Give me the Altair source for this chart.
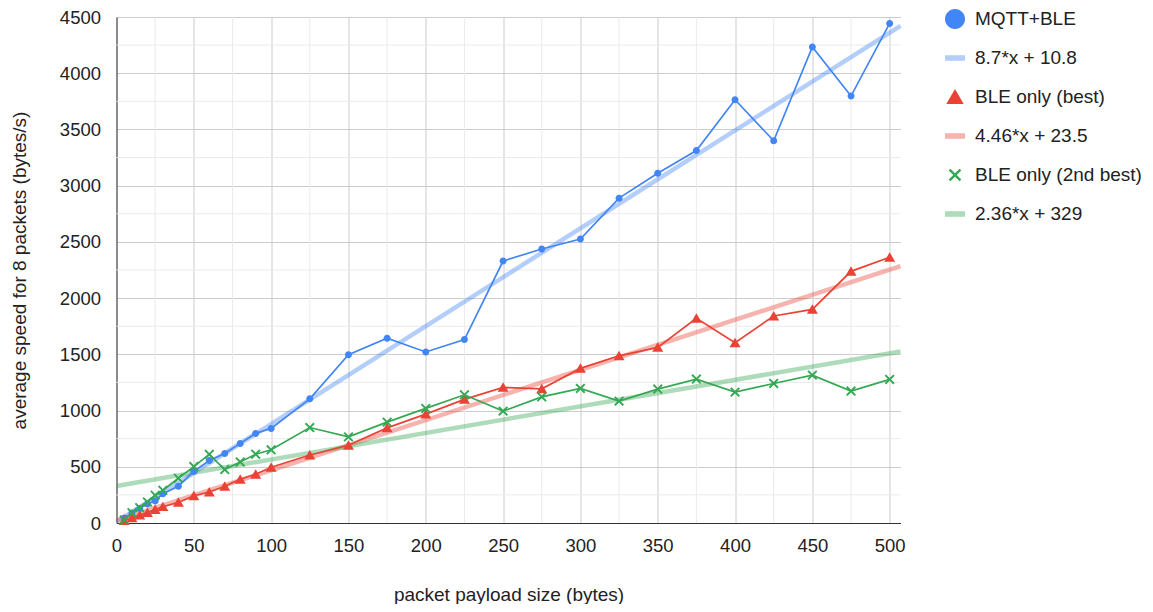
import altair as alt
import pandas as pd

# ---------------- data ----------------
payload = [5, 10, 15, 20, 25, 30, 40, 50, 60, 70, 80, 90, 100, 125, 150, 175,
           200, 225, 250, 275, 300, 325, 350, 375, 400, 425, 450, 475, 500]
mqtt_ble = [45, 88, 130, 170, 196, 261, 327, 459, 555, 619, 708, 797, 841, 1104,
            1497, 1643, 1521, 1631, 2330, 2437, 2526, 2889, 3111, 3312, 3764,
            3399, 4233, 3797, 4443]
ble_best = [22, 45, 70, 92, 120, 145, 183, 242, 276, 327, 389, 434, 496, 605,
            691, 846, 968, 1099, 1206, 1193, 1375, 1487, 1562, 1820, 1603, 1841,
            1900, 2238, 2363]
ble_2nd = [27, 92, 136, 187, 247, 291, 398, 502, 611, 475, 543, 612, 651, 849,
           766, 897, 1019, 1140, 995, 1122, 1197, 1084, 1191, 1280, 1164, 1241,
           1315, 1173, 1277]

series_labels = ["MQTT+BLE", "BLE only (best)", "BLE only (2nd best)"]
trend_labels = ["8.7*x + 10.8", "4.46*x + 23.5", "2.36*x + 329"]
trend_slopes = [8.7, 4.46, 2.36]
trend_intercepts = [10.8, 23.5, 329]

x_ticks = [0, 50, 100, 150, 200, 250, 300, 350, 400, 450, 500]
x_minor = [25, 75, 125, 175, 225, 275, 325, 375, 425, 475]
y_ticks = [0, 500, 1000, 1500, 2000, 2500, 3000, 3500, 4000, 4500]
y_minor = [250, 750, 1250, 1750, 2250, 2750, 3250, 3750, 4250]
X_MAX = 507
Y_MAX = 4500

# ---------------- styling ----------------
base_colors = ["#4285F4", "#EA4335", "#34A853"]
light_colors = ["#B3CEFB", "#F7B4AE", "#AEDCBA"]
circle_path = "M-1,0A1,1 0 1,0 1,0A1,1 0 1,0 -1,0Z"
tri_path = "M0,-0.8L0.87,0.7L-0.87,0.7Z"
x_path = ("M-0.63,-0.46L-0.46,-0.63L0,-0.17L0.46,-0.63L0.63,-0.46L0.17,0"
          "L0.63,0.46L0.46,0.63L0,0.17L-0.46,0.63L-0.63,0.46L-0.17,0Z")
rect_path = "M-1,-0.28H1V0.28H-1Z"
series_shapes = [circle_path, tri_path, x_path]
series_sizes = [49, 160, 250]

legend_labels = []
legend_colors = []
legend_shapes = []
for i in range(3):
    legend_labels += [series_labels[i], trend_labels[i]]
    legend_colors += [base_colors[i], light_colors[i]]
    legend_shapes += [series_shapes[i], rect_path]

FONT = "Liberation Sans, Arial, sans-serif"

# ---------------- data frames ----------------
rows = []
for lab, vals in zip(series_labels, [mqtt_ble, ble_best, ble_2nd]):
    for x, v in zip(payload, vals):
        rows.append({"payload": x, "speed": v, "series": lab})
df = pd.DataFrame(rows)

trend_rows = []
for lab, m, b in zip(trend_labels, trend_slopes, trend_intercepts):
    for x in [0, X_MAX]:
        trend_rows.append({"payload": x, "slope": m, "intercept": b, "series": lab})
trend_df = pd.DataFrame(trend_rows)

xminor_df = pd.DataFrame({"payload": x_minor})
yminor_df = pd.DataFrame({"speed": y_minor})

# ---------------- scales & axes ----------------
x_scale = alt.Scale(domain=[0, X_MAX], nice=False, zero=True)
y_scale = alt.Scale(domain=[0, Y_MAX], nice=False, zero=True)
x_axis = alt.Axis(values=x_ticks, title="packet payload size (bytes)", format="d",
                  ticks=False, labelPadding=13, titleX=392, titleY=77,
                  titleBaseline="alphabetic", titleAlign="center",
                  labelFlush=False)
y_axis = alt.Axis(values=y_ticks, title="average speed for 8 packets (bytes/s)",
                  format="d", ticks=False, labelPadding=16, titleX=-91, titleY=253,
                  titleAngle=270, titleBaseline="alphabetic", titleAlign="center",
                  labelBaseline="middle")

X = lambda f="payload:Q": alt.X(f, scale=x_scale, axis=x_axis)
Y = lambda f="speed:Q": alt.Y(f, scale=y_scale, axis=y_axis)

legend = alt.Legend(title=None, orient="none", legendX=828.5, legendY=-8,
                    symbolSize=400, rowPadding=19, labelOffset=10,
                    labelFontSize=19, labelFont=FONT, labelColor="#222222",
                    padding=0, symbolStrokeWidth=0, labelLimit=400)
color_enc = alt.Color("series:N", scale=alt.Scale(domain=legend_labels, range=legend_colors),
                      legend=legend)
shape_enc = alt.Shape("series:N", scale=alt.Scale(domain=legend_labels, range=legend_shapes),
                      legend=legend)

layers = []
layers.append(alt.Chart(xminor_df).mark_rule(color="#ebebeb", strokeWidth=1).encode(x=X()))
layers.append(alt.Chart(yminor_df).mark_rule(color="#ebebeb", strokeWidth=1).encode(y=Y()))

for i in range(3):
    layers.append(
        alt.Chart(trend_df).transform_filter(alt.datum.series == trend_labels[i])
        .transform_calculate(speed="datum.slope * datum.payload + datum.intercept")
        .mark_line(color=base_colors[i], strokeWidth=4.5, opacity=0.4)
        .encode(x=X(), y=Y())
    )
for i in range(3):
    layers.append(
        alt.Chart(df).transform_filter(alt.datum.series == series_labels[i])
        .mark_line(color=base_colors[i], strokeWidth=1.7)
        .encode(x=X(), y=Y(), order="payload:Q")
    )
for i in range(3):
    layers.append(
        alt.Chart(df).transform_filter(alt.datum.series == series_labels[i])
        .mark_point(filled=True, opacity=1, strokeWidth=0, size=series_sizes[i])
        .encode(x=X(), y=Y(), color=color_enc, shape=shape_enc)
    )

chart = alt.layer(*layers).properties(
    width=784, height=506,
    autosize=alt.AutoSizeParams(type="none"),
    padding={"left": 108.5, "top": 9, "right": 240, "bottom": 81},
).configure_view(stroke=None).configure_axis(
    gridColor="#cccccc", gridWidth=1, domainColor="#333333", domainWidth=1,
    labelFont=FONT, labelFontSize=18.5, labelColor="#222222",
    titleFont=FONT, titleFontSize=19, titleColor="#222222", titleFontWeight="normal",
)

chart.save("out.html", embed_options={"renderer": "svg", "actions": False})
